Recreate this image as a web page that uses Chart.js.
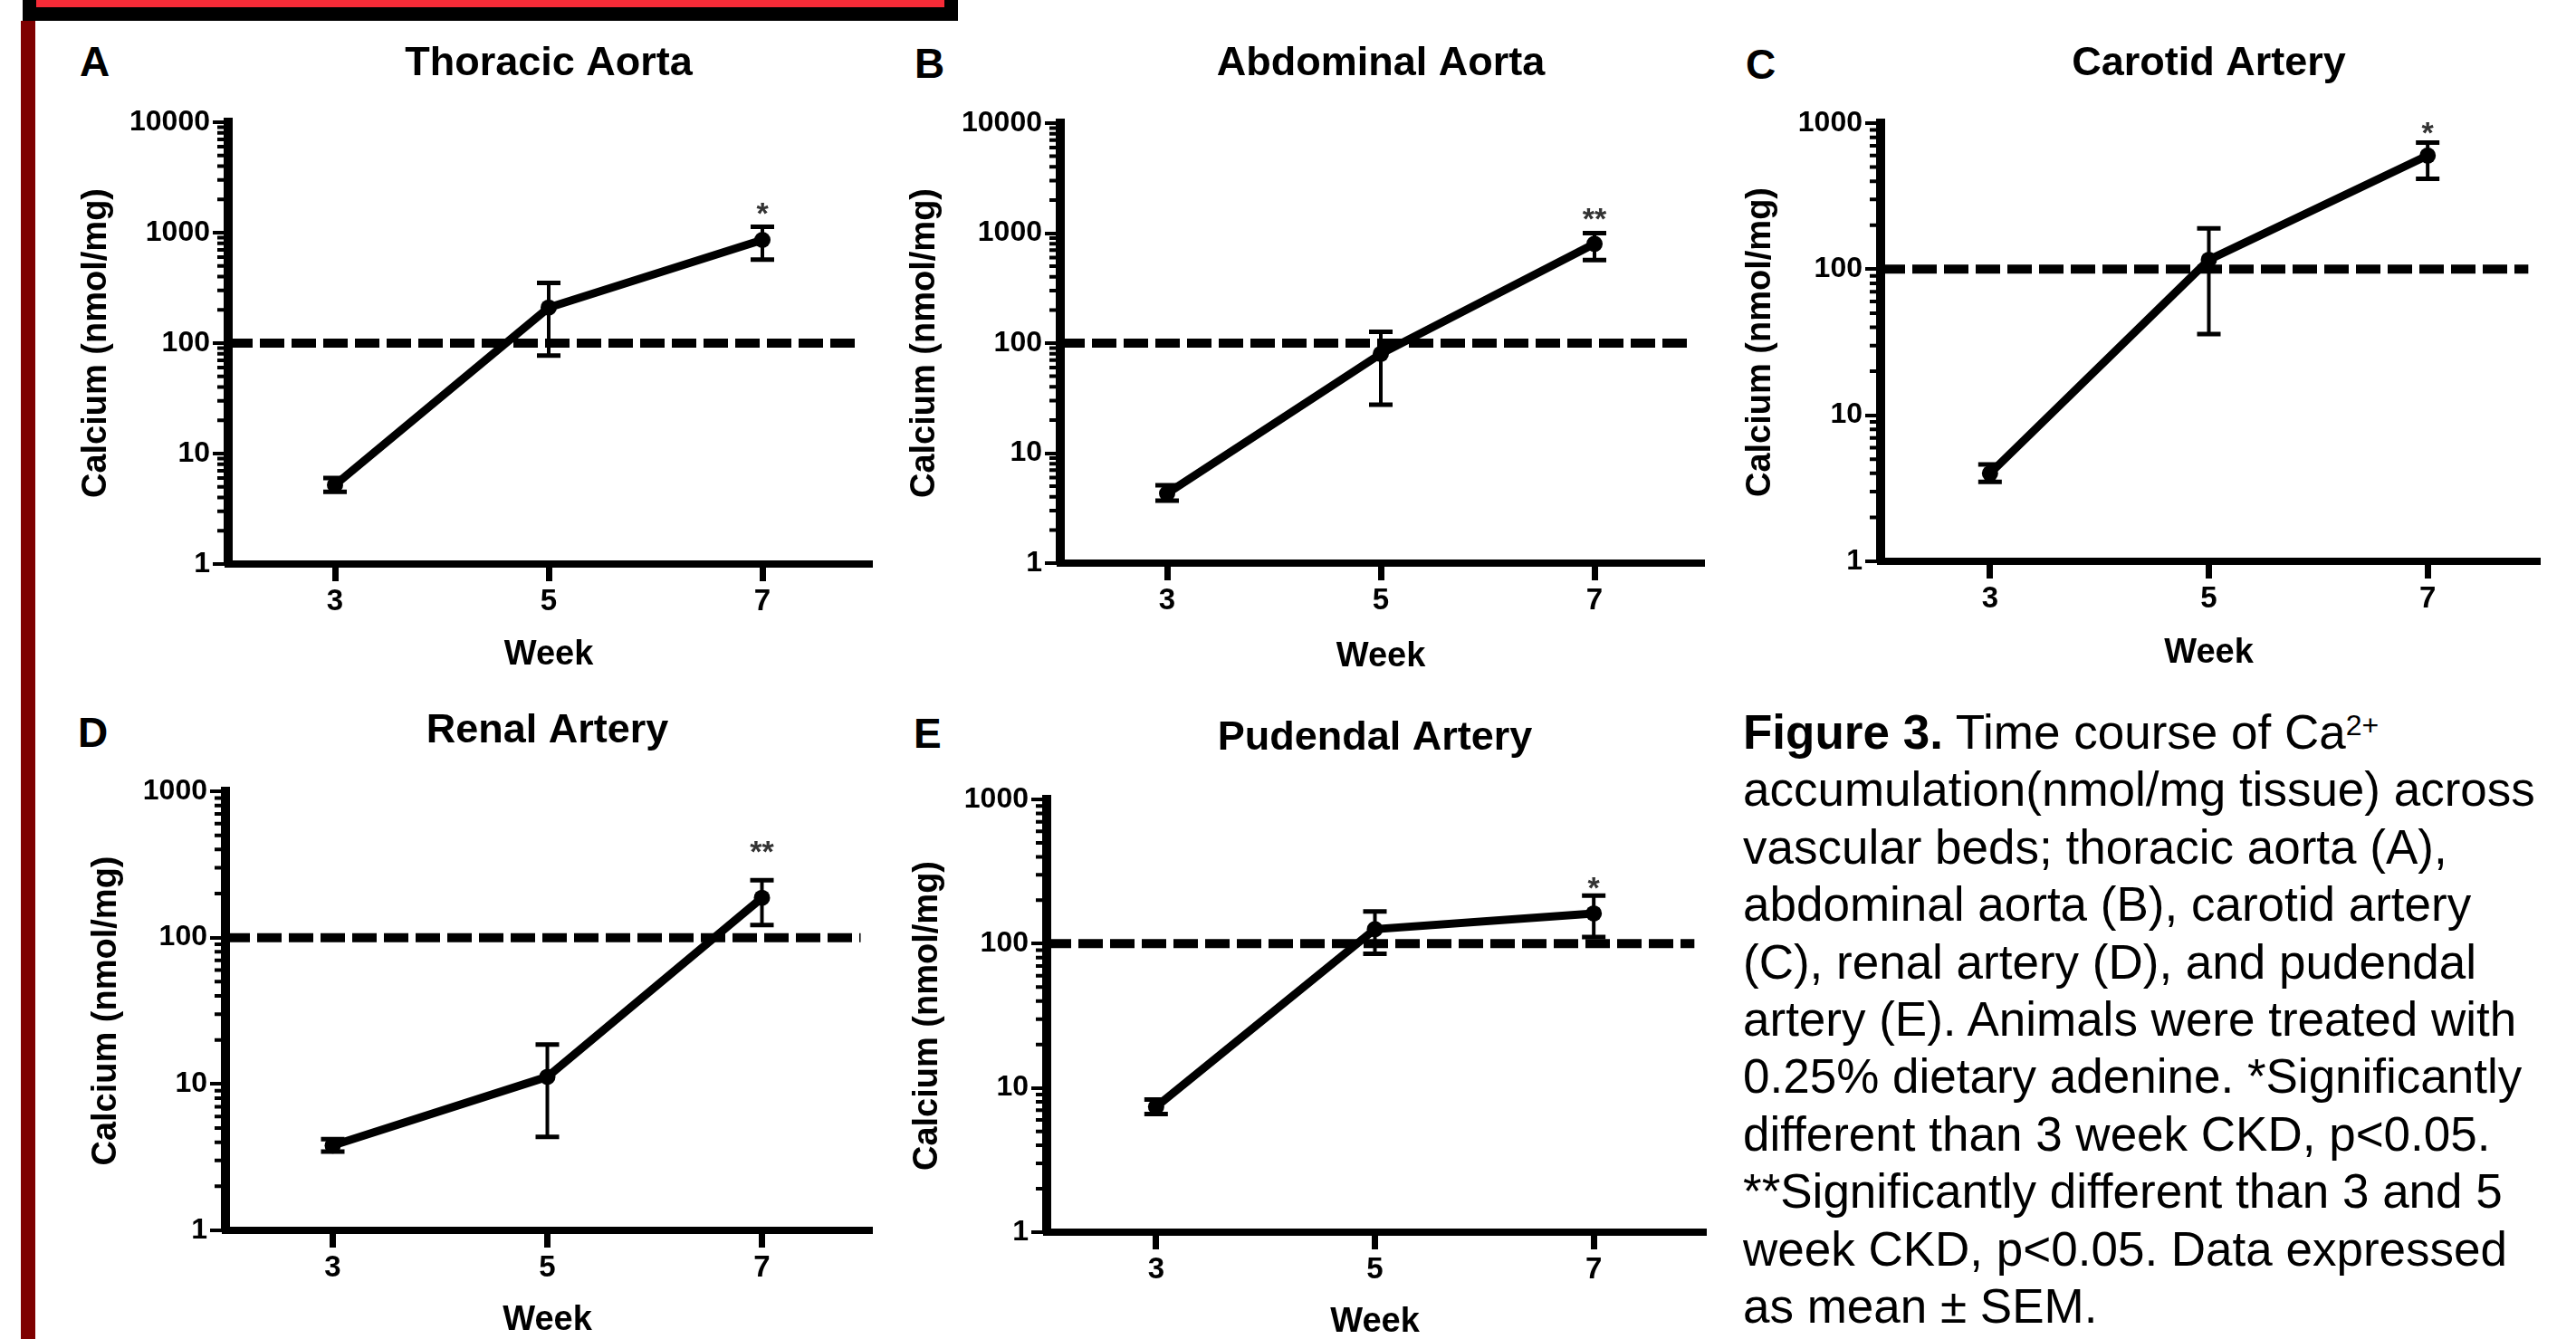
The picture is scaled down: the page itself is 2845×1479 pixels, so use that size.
<!DOCTYPE html>
<html>
<head>
<meta charset="utf-8">
<script src="https://cdn.jsdelivr.net/npm/chart.js"></script>
<style>
  html, body { margin: 0; padding: 0; background: #fff; }
  body { width: 2845px; height: 1479px; position: relative; overflow: hidden; font-family: "Liberation Sans", Arial, sans-serif; color: #000; }
  .topbox { position: absolute; left: 25px; top: -40px; width: 1033px; height: 63px; box-sizing: border-box; border: 15px solid #000; background: #f62b37; }
  .sidebar { position: absolute; left: 23px; top: 23px; width: 16px; height: 1456px; background: #7f0000; }
  .letter { position: absolute; font-weight: bold; font-size: 46px; line-height: 46px; }
  .caption { position: absolute; left: 1925px; top: 777px; font-size: 53px; line-height: 63.4px; white-space: nowrap; }
  .caption sup { font-size: 32px; line-height: 0; vertical-align: 15px; }
  canvas { position: absolute; }
</style>
</head>
<body>
<div class="topbox"></div>
<div class="sidebar"></div>

<div class="letter" style="left:88px; top:45px;">A</div>
<div class="letter" style="left:1010px; top:47px;">B</div>
<div class="letter" style="left:1928px; top:48px;">C</div>
<div class="letter" style="left:86px; top:786px;">D</div>
<div class="letter" style="left:1009px; top:787px;">E</div>

<div class="caption"><b>Figure 3.</b> Time course of Ca<sup>2+</sup><br>accumulation(nmol/mg tissue) across<br>vascular beds; thoracic aorta (A),<br>abdominal aorta (B), carotid artery<br>(C), renal artery (D), and pudendal<br>artery (E). Animals were treated with<br>0.25% dietary adenine. *Significantly<br>different than 3 week CKD, p&lt;0.05.<br>**Significantly different than 3 and 5<br>week CKD, p&lt;0.05. Data expressed<br>as mean ± SEM.</div>

<script>
    // weeks on the x axis
    const weeks = [3, 5, 7];
    const weekTicks = [3, 5, 7];

    // dashed reference line at 100 nmol/mg
    const refWeeks = [2, 7.92];
    const refLevel = [100, 100];

    // y ticks (log axis)
    const logTicks4 = [1, 10, 100, 1000, 10000];
    const logTicks3 = [1, 10, 100, 1000];

    // mean, lower and upper end of the SEM bar, significance mark
    const thoracicMean = [5.2, 210, 860];
    const thoracicLow  = [4.5, 77, 570];
    const thoracicHigh = [6.0, 350, 1130];
    const thoracicSig  = ['', '', '*'];

    const abdominalMean = [4.3, 80, 800];
    const abdominalLow  = [3.7, 27.5, 570];
    const abdominalHigh = [5.1, 127, 1000];
    const abdominalSig  = ['', '', '**'];

    const carotidMean = [4.0, 116, 600];
    const carotidLow  = [3.5, 36, 415];
    const carotidHigh = [4.6, 190, 735];
    const carotidSig  = ['', '', '*'];

    const renalMean = [3.8, 11.2, 187];
    const renalLow  = [3.45, 4.35, 122];
    const renalHigh = [4.2, 18.6, 247];
    const renalSig  = ['', '', '**'];

    const pudendalMean = [7.4, 126, 162];
    const pudendalLow  = [6.6, 85, 111];
    const pudendalHigh = [8.3, 167, 215];
    const pudendalSig  = ['', '', '*'];

    Chart.defaults.font.family = '"Liberation Sans", Arial, sans-serif';
    Chart.defaults.color = '#000';

    // page layout of each panel (canvas box, plot area, text centres)
    const panels = [
        { title: 'Thoracic Aorta', mean: thoracicMean, low: thoracicLow, high: thoracicHigh, sig: thoracicSig, yTicks: logTicks4,
          box: { x: 45, y: 24, w: 945, h: 736 }, area: { l: 252, t: 135, r: 960, b: 623 },
          titleY: 71, yTitleX: 107, xTitleY: 724, sigGap: 21 },
        { title: 'Abdominal Aorta', mean: abdominalMean, low: abdominalLow, high: abdominalHigh, sig: abdominalSig, yTicks: logTicks4,
          box: { x: 990, y: 24, w: 910, h: 736 }, area: { l: 1171, t: 136, r: 1879, b: 622 },
          titleY: 71, yTitleX: 1022, xTitleY: 726, sigGap: 22 },
        { title: 'Carotid Artery', mean: carotidMean, low: carotidLow, high: carotidHigh, sig: carotidSig, yTicks: logTicks3,
          box: { x: 1900, y: 24, w: 945, h: 736 }, area: { l: 2077, t: 136, r: 2802, b: 620 },
          titleY: 71, yTitleX: 1945, xTitleY: 722, sigGap: 17 },
        { title: 'Renal Artery', mean: renalMean, low: renalLow, high: renalHigh, sig: renalSig, yTicks: logTicks3,
          box: { x: 45, y: 760, w: 945, h: 719 }, area: { l: 249, t: 874, r: 960, b: 1359 },
          titleY: 808, yTitleX: 118, xTitleY: 1459, sigGap: 38 },
        { title: 'Pudendal Artery', mean: pudendalMean, low: pudendalLow, high: pudendalHigh, sig: pudendalSig, yTicks: logTicks3,
          box: { x: 990, y: 760, w: 910, h: 719 }, area: { l: 1156, t: 883, r: 1881, b: 1361 },
          titleY: 816, yTitleX: 1025, xTitleY: 1461, sigGap: 15 }
    ];

    // error bars, significance marks and minor log ticks
    function extrasPlugin(p) {
        return {
            id: 'extras',
            afterDatasetsDraw(chart) {
                const ctx = chart.ctx;
                const xs = chart.scales.x, ys = chart.scales.y;
                ctx.save();
                ctx.strokeStyle = '#000';
                weeks.forEach((w, i) => {
                    const px = xs.getPixelForValue(w);
                    const yl = ys.getPixelForValue(p.low[i]);
                    const yh = ys.getPixelForValue(p.high[i]);
                    ctx.lineWidth = 4;
                    ctx.beginPath();
                    ctx.moveTo(px, yl); ctx.lineTo(px, yh);
                    ctx.stroke();
                    ctx.lineWidth = 5;
                    ctx.beginPath();
                    ctx.moveTo(px - 13, yl); ctx.lineTo(px + 13, yl);
                    ctx.moveTo(px - 13, yh); ctx.lineTo(px + 13, yh);
                    ctx.stroke();
                    if (p.sig[i]) {
                        const fs = 34;
                        ctx.fillStyle = '#333';
                        ctx.font = 'bold ' + fs + 'px "Liberation Sans", Arial, sans-serif';
                        ctx.textAlign = 'center';
                        ctx.textBaseline = 'middle';
                        ctx.fillText(p.sig[i], px, yh - p.sigGap + 0.24 * fs);
                    }
                });
                // minor ticks 2..9 in each decade
                const ax = ys.right;
                const top = p.yTicks[p.yTicks.length - 1];
                ctx.lineWidth = 4;
                ctx.beginPath();
                for (let d = 1; d < top; d *= 10) {
                    for (let k = 2; k <= 9; k++) {
                        const py = ys.getPixelForValue(k * d);
                        ctx.moveTo(ax - 12, py);
                        ctx.lineTo(ax, py);
                    }
                }
                ctx.stroke();
                ctx.restore();
            }
        };
    }

    function makeChart(p) {
        const cv = document.createElement('canvas');
        cv.width = p.box.w;
        cv.height = p.box.h;
        cv.style.left = p.box.x + 'px';
        cv.style.top = p.box.y + 'px';
        document.body.appendChild(cv);

        const titleLH = 45 * 1.2;
        const axisLH = 38 * 1.2;
        const yWidth = p.area.l - p.box.x;
        const xHeight = p.box.y + p.box.h - p.area.b;

        new Chart(cv, {
            type: 'line',
            data: {
                datasets: [
                    {
                        data: weeks.map((w, i) => ({ x: w, y: p.mean[i] })),
                        borderColor: '#000',
                        borderWidth: 9,
                        pointRadius: 9,
                        pointBackgroundColor: '#000',
                        pointBorderWidth: 0,
                        tension: 0
                    },
                    {
                        data: refWeeks.map((w, i) => ({ x: w, y: refLevel[i] })),
                        borderColor: '#000',
                        borderWidth: 10,
                        borderDash: [27, 8],
                        pointRadius: 0
                    }
                ]
            },
            options: {
                responsive: false,
                animation: false,
                devicePixelRatio: 1,
                layout: { padding: { left: 0, top: 0, bottom: 0, right: p.box.x + p.box.w - p.area.r } },
                plugins: {
                    legend: { display: false },
                    tooltip: { enabled: false },
                    title: {
                        display: true,
                        text: p.title,
                        fullSize: false,
                        color: '#000',
                        font: { size: 45, weight: 'bold' },
                        padding: { top: p.titleY - p.box.y - titleLH / 2, bottom: p.area.t - p.titleY - titleLH / 2 }
                    }
                },
                scales: {
                    x: {
                        type: 'linear',
                        min: 2,
                        max: 8,
                        afterBuildTicks: s => { s.ticks = weekTicks.map(v => ({ value: v })); },
                        afterFit: s => { s.height = xHeight; },
                        grid: { drawOnChartArea: false, drawTicks: true, tickLength: 19, tickWidth: 7, lineWidth: 7, color: '#000', tickColor: '#000' },
                        border: { display: true, width: 8, color: '#000' },
                        ticks: { color: '#000', font: { size: 33, weight: 'bold' }, padding: 3, maxRotation: 0, autoSkip: false, callback: v => String(v) },
                        title: {
                            display: true, text: 'Week', color: '#000',
                            font: { size: 38, weight: 'bold' },
                            padding: { top: 0, bottom: p.box.y + p.box.h - p.xTitleY - axisLH / 2 }
                        }
                    },
                    y: {
                        type: 'logarithmic',
                        min: 1,
                        max: p.yTicks[p.yTicks.length - 1],
                        afterBuildTicks: s => { s.ticks = p.yTicks.map(v => ({ value: v })); },
                        afterFit: s => { s.width = yWidth; },
                        grid: { drawOnChartArea: false, drawTicks: true, tickLength: 17, tickWidth: 4, lineWidth: 4, color: '#000', tickColor: '#000' },
                        border: { display: true, width: 10, color: '#000' },
                        ticks: { color: '#000', font: { size: 32, weight: 'bold' }, padding: 3, autoSkip: false, callback: v => String(v) },
                        title: {
                            display: true, text: 'Calcium (nmol/mg)', color: '#000',
                            font: { size: 38, weight: 'bold' },
                            padding: { top: p.yTitleX - p.box.x - axisLH / 2, bottom: 0 }
                        }
                    }
                }
            },
            plugins: [extrasPlugin(p)]
        });
    }

    panels.forEach(makeChart);
</script>
</body>
</html>
